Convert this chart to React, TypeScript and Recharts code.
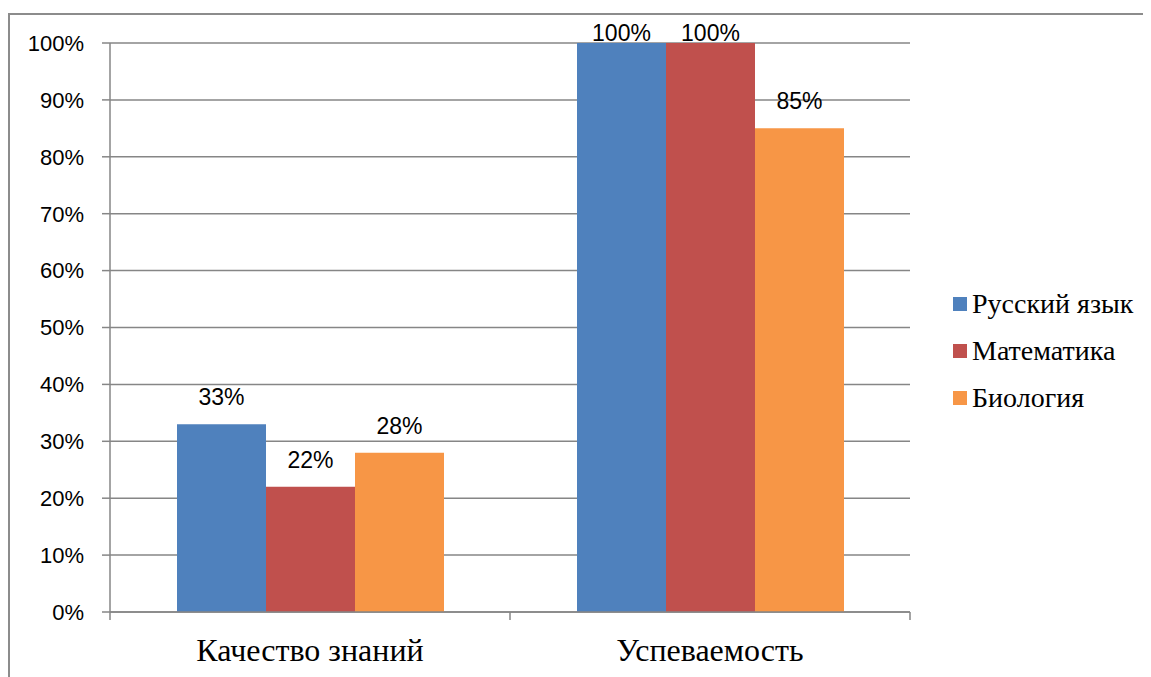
import React from "react";
import { BarChart, Bar, XAxis, YAxis, CartesianGrid, Legend, LabelList } from "recharts";

const categories = ["Качество знаний", "Успеваемость"];
const russian = [33, 100];
const math = [22, 100];
const biology = [28, 85];
const yTicks = [0, 10, 20, 30, 40, 50, 60, 70, 80, 90, 100];

const seriesNames = ["Русский язык", "Математика", "Биология"];
const colors = ["#4F81BD", "#C0504D", "#F79646"];

const data = categories.map((c, i) => ({
  name: c,
  r: russian[i],
  m: math[i],
  b: biology[i],
}));

const GRID = "#868686";
const SANS = "'Liberation Sans', Arial, sans-serif";
const SERIF = "'Liberation Serif', 'Times New Roman', serif";

const BarLabel = (props: any) => {
  const { x, y, width, value } = props;
  const cy = Math.max(y - 27, 25);
  return (
    <text
      x={x + width / 2}
      y={cy}
      textAnchor="middle"
      dominantBaseline="central"
      fontFamily={SANS}
      fontSize={23}
      fill="#000"
    >
      {value}%
    </text>
  );
};

const XTick = (props: any) => {
  const { x, y, payload, index } = props;
  const off = payload.offset || 0;
  const last = index === categories.length - 1;
  return (
    <g>
      <line x1={x - off} x2={x - off} y1={y - 8} y2={y} stroke={GRID} strokeWidth={1.5} />
      {last && (
        <line x1={x + off} x2={x + off} y1={y - 8} y2={y} stroke={GRID} strokeWidth={1.5} />
      )}
      <text x={x} y={y + 41} textAnchor="middle" fontFamily={SERIF} fontSize={32} fill="#000">
        {payload.value}
      </text>
    </g>
  );
};

const LegendContent = () => (
  <div style={{ fontFamily: SERIF, fontSize: 28, color: "#000" }}>
    {seriesNames.map((n, i) => (
      <div key={n} style={{ display: "flex", alignItems: "center", height: 47 }}>
        <span
          style={{
            display: "inline-block",
            width: 14,
            height: 14,
            background: colors[i],
            marginRight: 5,
          }}
        />
        <span>{n}</span>
      </div>
    ))}
  </div>
);

export default function App() {
  return (
    <div
      style={{
        position: "relative",
        width: 1143,
        height: 669,
      }}
    >
      <div
        style={{
          position: "absolute",
          left: 0,
          top: 5,
          width: 1143,
          height: 664,
          borderTop: "2px solid #8c8c8c",
          borderLeft: "2px solid #8c8c8c",
          boxSizing: "border-box",
        }}
      />
      <BarChart
        width={1143}
        height={669}
        data={data}
        margin={{ top: 35, right: 241, bottom: 5, left: 0 }}
        barCategoryGap="16.75%"
        barGap={0}
      >
        <CartesianGrid horizontal={true} vertical={false} stroke={GRID} strokeWidth={1.5} />
        <XAxis
          dataKey="name"
          height={60}
          axisLine={{ stroke: GRID, strokeWidth: 1.5 }}
          tickLine={false}
          tick={<XTick />}
          interval={0}
        />
        <YAxis
          width={102}
          domain={[0, 100]}
          ticks={yTicks}
          interval={0}
          tickFormatter={(v: number) => `${v}%`}
          axisLine={{ stroke: GRID, strokeWidth: 1.5 }}
          tickLine={{ stroke: GRID, strokeWidth: 1.5 }}
          tickSize={8}
          tickMargin={18}
          tick={{ fontFamily: SANS, fontSize: 22, fill: "#000" }}
        />
        <Legend
          layout="vertical"
          align="center"
          verticalAlign="middle"
          content={<LegendContent />}
          wrapperStyle={{ left: 945, top: 272, width: 200, height: 141 }}
        />
        <Bar dataKey="r" name={seriesNames[0]} fill={colors[0]} isAnimationActive={false}>
          <LabelList dataKey="r" content={<BarLabel />} />
        </Bar>
        <Bar dataKey="m" name={seriesNames[1]} fill={colors[1]} isAnimationActive={false}>
          <LabelList dataKey="m" content={<BarLabel />} />
        </Bar>
        <Bar dataKey="b" name={seriesNames[2]} fill={colors[2]} isAnimationActive={false}>
          <LabelList dataKey="b" content={<BarLabel />} />
        </Bar>
      </BarChart>
    </div>
  );
}
